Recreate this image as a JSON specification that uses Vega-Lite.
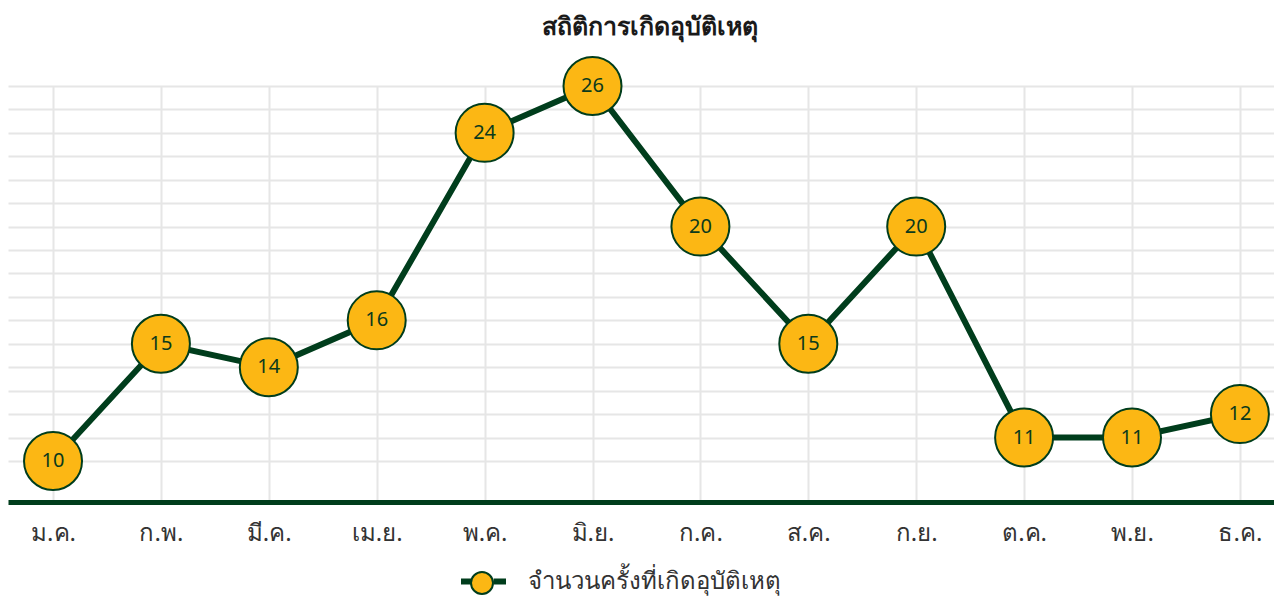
{
  "$schema": "https://vega.github.io/schema/vega-lite/v6.json",
  "width": 1266,
  "height": 416,
  "autosize": {"type": "none"},
  "padding": {"left": 8, "top": 86, "right": 0, "bottom": 96},
  "background": "white",
  "config": {"view": {"stroke": null}, "font": "Noto Sans"},
  "title": {"text": "สถิติการเกิดอุบัติเหตุ", "fontSize": 25, "fontWeight": "bold", "color": "#1a1a1a", "offset": 13, "dx": 9, "anchor": "middle"},
  "data": {"values": [
    {"month": "ม.ค.", "count": 10, "series": "จำนวนครั้งที่เกิดอุบัติเหตุ"},
    {"month": "ก.พ.", "count": 15, "series": "จำนวนครั้งที่เกิดอุบัติเหตุ"},
    {"month": "มี.ค.", "count": 14, "series": "จำนวนครั้งที่เกิดอุบัติเหตุ"},
    {"month": "เม.ย.", "count": 16, "series": "จำนวนครั้งที่เกิดอุบัติเหตุ"},
    {"month": "พ.ค.", "count": 24, "series": "จำนวนครั้งที่เกิดอุบัติเหตุ"},
    {"month": "มิ.ย.", "count": 26, "series": "จำนวนครั้งที่เกิดอุบัติเหตุ"},
    {"month": "ก.ค.", "count": 20, "series": "จำนวนครั้งที่เกิดอุบัติเหตุ"},
    {"month": "ส.ค.", "count": 15, "series": "จำนวนครั้งที่เกิดอุบัติเหตุ"},
    {"month": "ก.ย.", "count": 20, "series": "จำนวนครั้งที่เกิดอุบัติเหตุ"},
    {"month": "ต.ค.", "count": 11, "series": "จำนวนครั้งที่เกิดอุบัติเหตุ"},
    {"month": "พ.ย.", "count": 11, "series": "จำนวนครั้งที่เกิดอุบัติเหตุ"},
    {"month": "ธ.ค.", "count": 12, "series": "จำนวนครั้งที่เกิดอุบัติเหตุ"}
  ]},
  "encoding": {
    "x": {
      "field": "month", "type": "ordinal", "sort": null,
      "scale": {"type": "point", "padding": 0.3666, "align": 0.569},
      "axis": {"title": null, "domain": true, "domainColor": "#003d1c", "domainWidth": 5, "ticks": false, "labelFontSize": 24, "labelColor": "#333333", "labelPadding": 19, "labelAngle": 0, "grid": true, "gridColor": "#e6e6e6", "gridWidth": 2}
    },
    "y": {
      "field": "count", "type": "quantitative",
      "scale": {"domain": [8.25, 26], "nice": false, "zero": false},
      "axis": {"title": null, "labels": false, "ticks": false, "domain": false, "grid": true, "gridColor": "#e6e6e6", "gridWidth": 2, "values": [10, 11, 12, 13, 14, 15, 16, 17, 18, 19, 20, 21, 22, 23, 24, 25, 26]}
    }
  },
  "layer": [
    {
      "mark": {"type": "line", "strokeWidth": 6},
      "encoding": {
        "stroke": {"field": "series", "type": "nominal", "scale": {"range": ["#003d1c"]},
          "legend": {"orient": "none", "legendX": 450, "legendY": 470, "title": null, "padding": 0, "symbolType": "M-1,0H-0.45M0.45,0H1", "symbolSize": 2025, "symbolStrokeWidth": 6, "labelFontSize": 24, "labelColor": "#333333", "labelOffset": 19, "labelLimit": 500}}
      }
    },
    {
      "mark": {"type": "point", "shape": "circle", "filled": true, "size": 3364, "strokeWidth": 2, "stroke": "#003d1c", "opacity": 1},
      "encoding": {
        "fill": {"field": "series", "type": "nominal", "scale": {"range": ["#fcb714"]},
          "legend": {"orient": "none", "legendX": 450, "legendY": 485, "title": null, "padding": 0, "symbolType": "circle", "symbolSize": 484, "symbolStrokeColor": "#003d1c", "symbolStrokeWidth": 2, "symbolOpacity": 1, "symbolOffset": 12, "labelExpr": "''", "labelFontSize": 10, "labelLimit": 500}}
      }
    },
    {
      "mark": {"type": "text", "fontSize": 20, "color": "#0b3a1c"},
      "encoding": {"text": {"field": "count", "type": "quantitative"}}
    }
  ]
}
